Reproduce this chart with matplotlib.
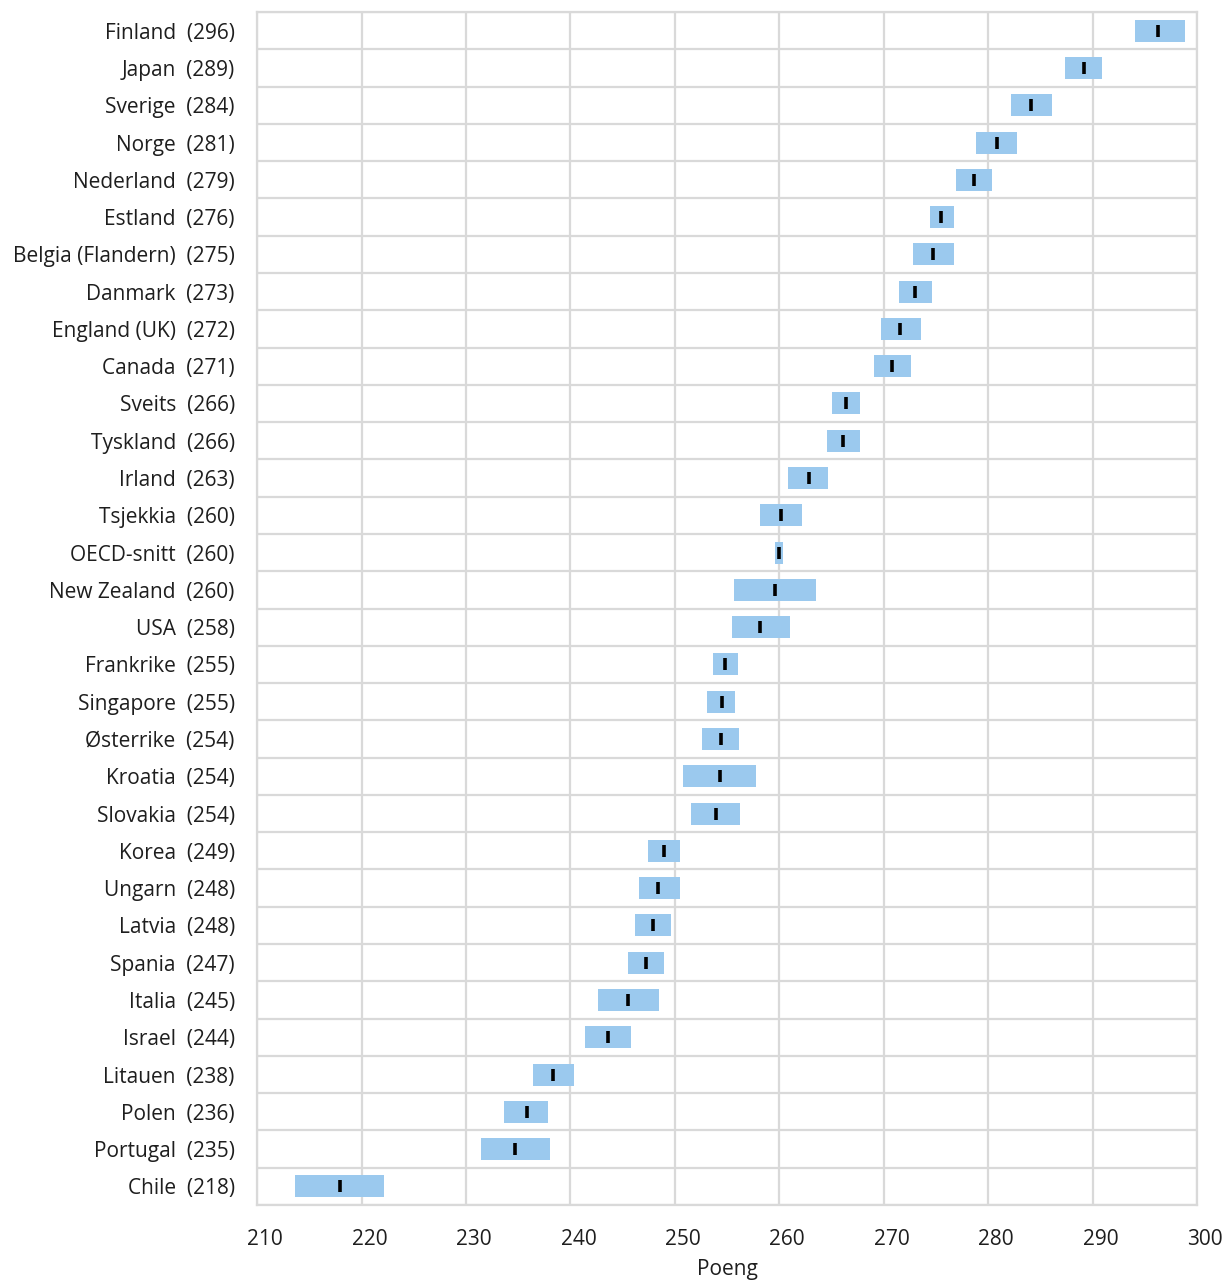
import numpy as np
import matplotlib
matplotlib.use("Agg")
import matplotlib.pyplot as plt
import matplotlib.transforms as mtransforms

plt.rcParams['font.family'] = ['Open Sans', 'DejaVu Sans']

countries = ["Finland", "Japan", "Sverige", "Norge", "Nederland", "Estland",
             "Belgia (Flandern)", "Danmark", "England (UK)", "Canada", "Sveits",
             "Tyskland", "Irland", "Tsjekkia", "OECD-snitt", "New Zealand", "USA",
             "Frankrike", "Singapore", "Østerrike", "Kroatia", "Slovakia", "Korea",
             "Ungarn", "Latvia", "Spania", "Italia", "Israel", "Litauen", "Polen",
             "Portugal", "Chile"]
scores = [296, 289, 284, 281, 279, 276, 275, 273, 272, 271, 266, 266, 263, 260,
          260, 260, 258, 255, 255, 254, 254, 254, 249, 248, 248, 247, 245, 244,
          238, 236, 235, 218]
# konfidensintervall (nedre / øvre) og gjennomsnitt
ci_low = [294.1, 287.4, 282.2, 278.8, 276.9, 274.4, 272.8, 271.5, 269.7, 269.1,
          265.0, 264.6, 260.8, 258.2, 259.6, 255.7, 255.5, 253.7, 253.1, 252.6,
          250.8, 251.5, 247.4, 246.6, 246.2, 245.5, 242.6, 241.4, 236.4, 233.6,
          231.4, 213.6]
ci_high = [298.8, 290.9, 286.1, 282.8, 280.4, 276.7, 276.7, 274.6, 273.6, 272.6,
           267.7, 267.7, 264.7, 262.2, 260.4, 263.5, 261.0, 256.0, 255.8, 256.1,
           257.8, 256.2, 250.5, 250.5, 249.6, 249.0, 248.5, 245.8, 240.3, 237.9,
           238.0, 222.2]
means = [296.3, 289.2, 284.1, 280.8, 278.6, 275.5, 274.7, 273.0, 271.6, 270.8,
         266.4, 266.1, 262.8, 260.2, 260.0, 259.6, 258.2, 254.8, 254.5, 254.4,
         254.3, 253.9, 249.0, 248.4, 247.9, 247.2, 245.5, 243.6, 238.3, 235.8,
         234.7, 217.9]

GRID = "#d9d9d9"
BAR = "#9bc9ee"
TXT = "#1e1e1e"

fig = plt.figure(figsize=(12.27, 12.83), dpi=100)
ax = fig.add_axes([0.2095, 0.0608, 0.7661, 0.9298])

n = len(countries)
y = np.arange(n)
lo = np.array(ci_low)
hi = np.array(ci_high)

ax.barh(y, hi - lo, left=lo, height=0.59, color=BAR, zorder=3)
ax.plot(means, y, ls="none", marker="|", ms=8.8, mew=2.6, color="black", zorder=4)

ax.set_xlim(210, 300)
ax.set_ylim(n - 0.5, -0.5)
ax.set_xticks(np.arange(210, 301, 10))
ax.set_yticks(y)
ax.set_yticklabels([f"{c}  ({s})" for c, s in zip(countries, scores)])
ax.set_yticks(np.arange(-0.5, n, 1), minor=True)

ax.grid(axis="x", which="major", color=GRID, lw=1.6, zorder=0)
ax.grid(axis="y", which="minor", color=GRID, lw=1.6, zorder=0)
ax.grid(axis="y", which="major", visible=False)
ax.tick_params(axis="both", which="both", length=0, labelsize=15, colors=TXT)
ax.tick_params(axis="y", pad=16)
ax.tick_params(axis="x", pad=17)
for sp in ax.spines.values():
    sp.set_color(GRID)
    sp.set_linewidth(1.6)

# tallene står litt til høyre for rutenettlinjene
shift = mtransforms.ScaledTranslation(0.08, 0, fig.dpi_scale_trans)
for lab in ax.get_xticklabels():
    lab.set_transform(lab.get_transform() + shift)

ax.set_xlabel("Poeng", fontsize=15, color=TXT, labelpad=7)

plt.savefig("out.png", dpi=100)
